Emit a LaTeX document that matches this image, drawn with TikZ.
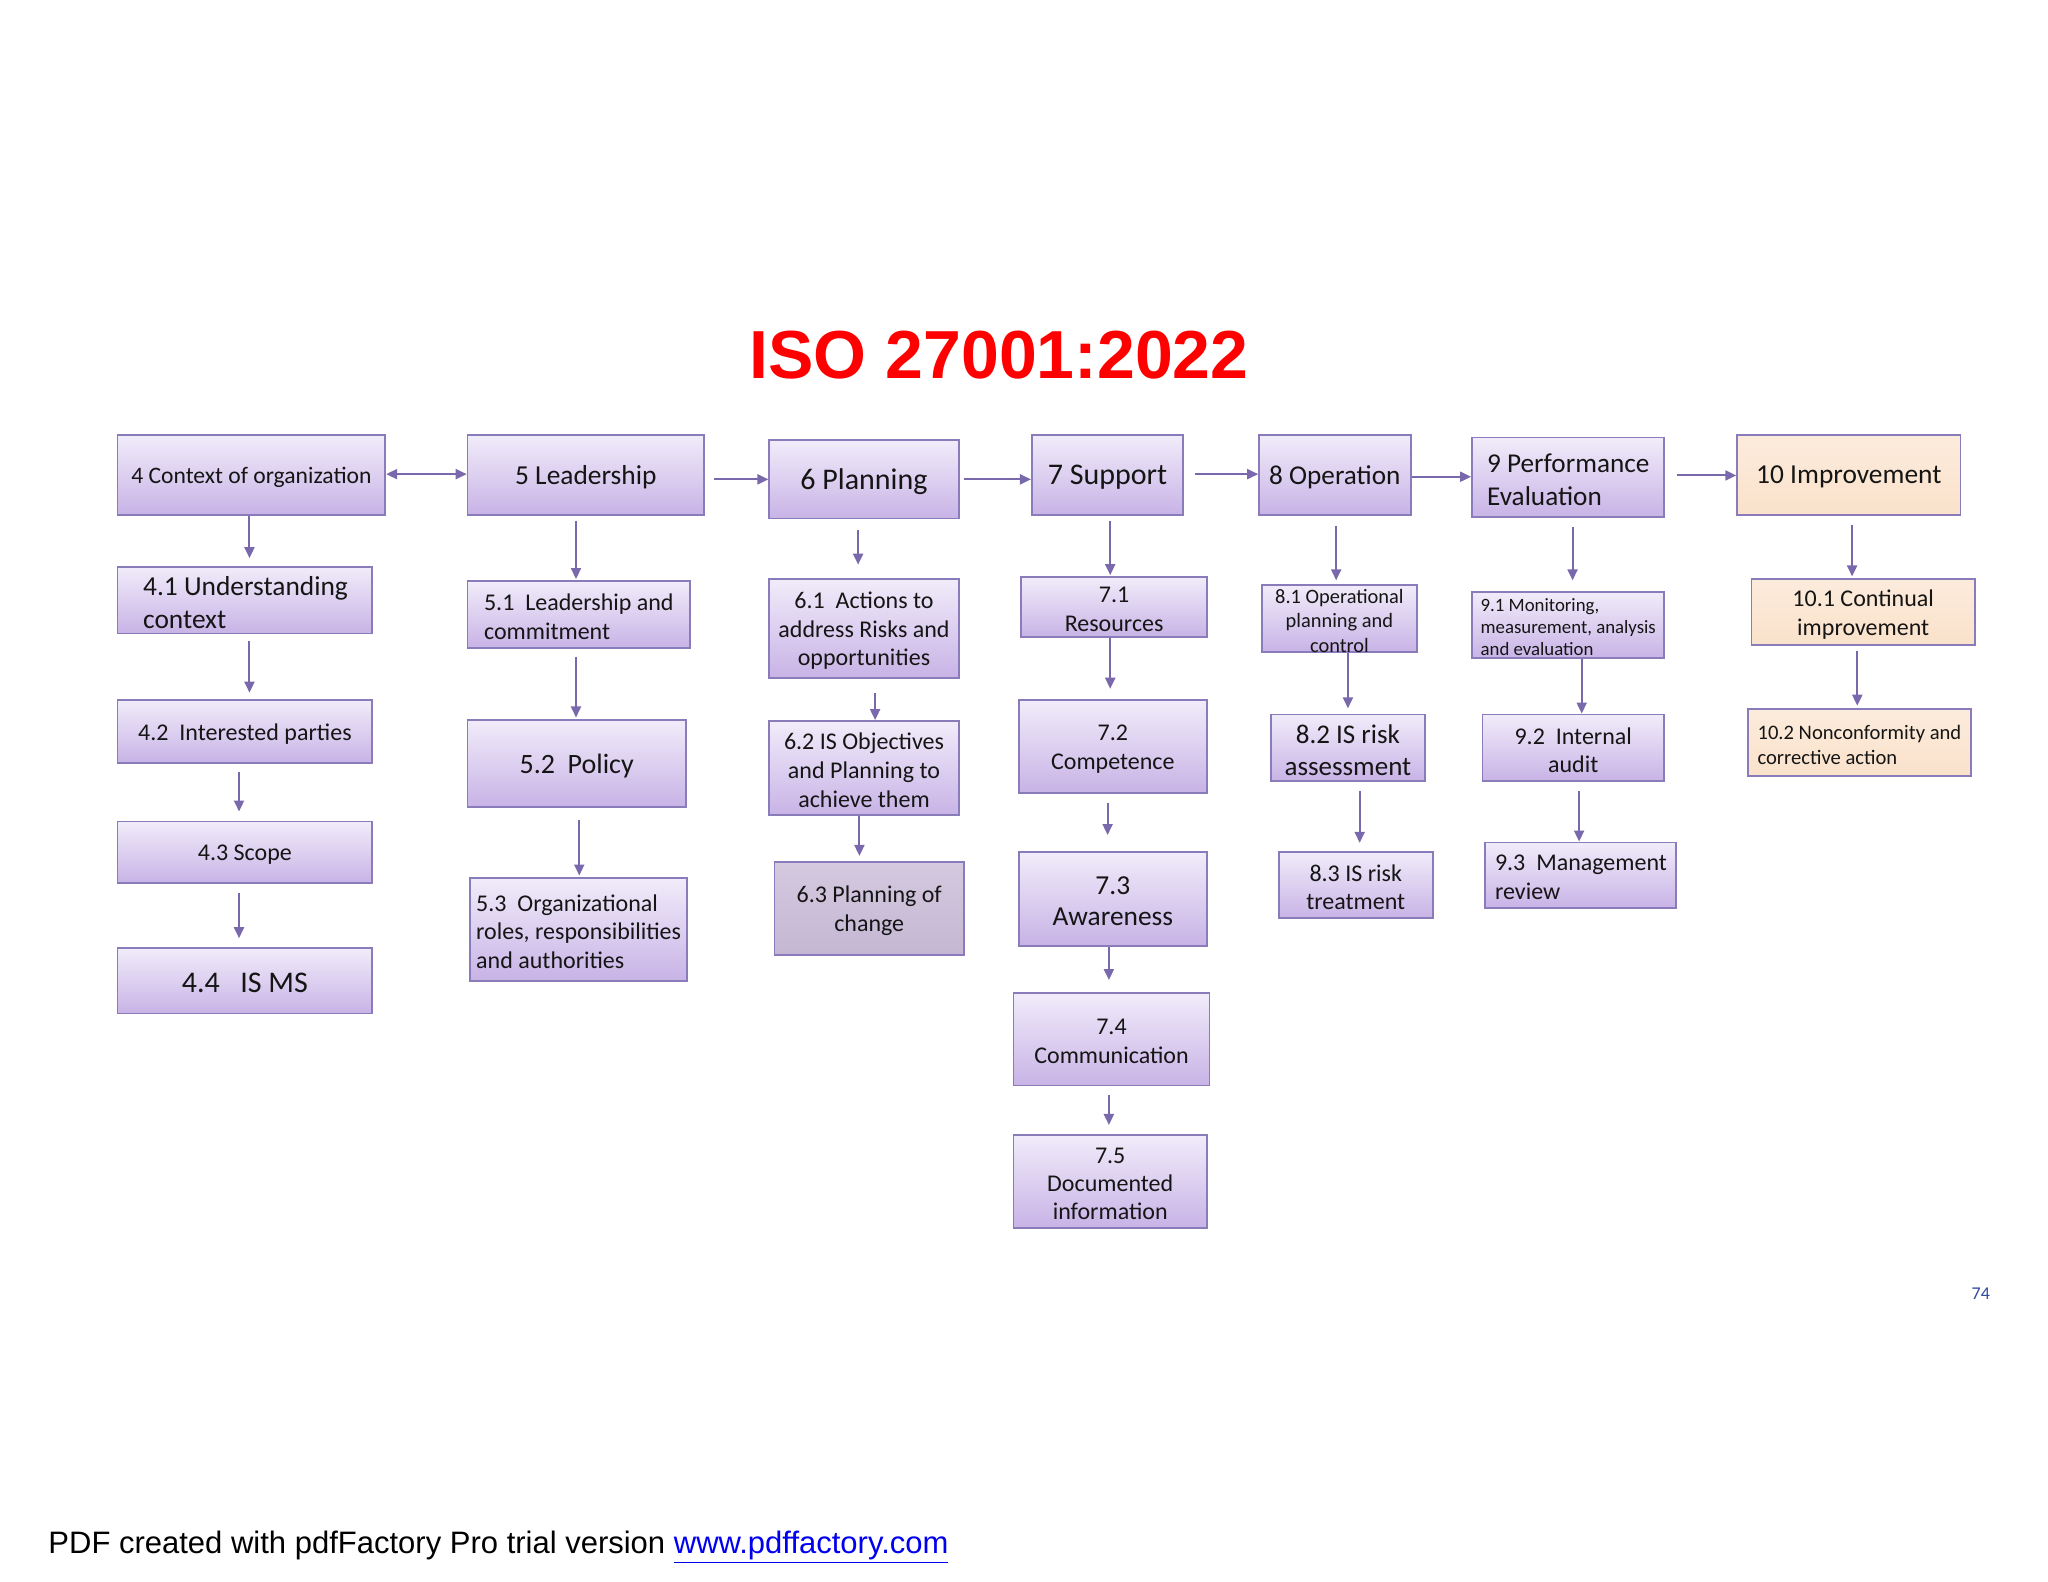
\documentclass[tikz,border=0pt]{standalone}
\usepackage{fontspec}
\setmainfont{Carlito}
\newfontfamily\arialf{Liberation Sans}
\usetikzlibrary{arrows.meta,calc}
\newcommand\uu{0.653pt}
\newcommand\fs[2]{\fontsize{#1}{#2}\selectfont}
\definecolor{boxtop}{HTML}{F1ECFA}
\definecolor{boxbot}{HTML}{C8B3E6}
\definecolor{boxedge}{HTML}{8A7CBA}
\definecolor{arrc}{HTML}{7A68AC}
\definecolor{peach}{HTML}{FCEBDC}
\definecolor{peachbot}{HTML}{FAE2CB}
\definecolor{greytop}{HTML}{D4C9DF}
\definecolor{greybot}{HTML}{C5B7D3}
\definecolor{txtc}{HTML}{151515}
\definecolor{pgnum}{HTML}{2E4A9E}
\definecolor{linkc}{HTML}{0000EE}
\tikzset{
  >={Triangle[length=5.5pt,width=5pt]},
  box/.style={rectangle, draw=boxedge, line width=0.9pt, top color=boxtop, bottom color=boxbot, inner sep=0pt},
  pbox/.style={box, top color=peach, bottom color=peachbot},
  gbox/.style={box, top color=greytop, bottom color=greybot},
  txt/.style={inner sep=0pt, align=center, text=txtc, yshift=-1.2pt},
  arr/.style={draw=arrc, line width=1pt, ->},
  dbl/.style={<->}
}
% centered box: name x1 y1 x2 y2 style font text
\newcommand\bxc[8]{%
  \node[#6, minimum width={(#4-#2)*\uu}, minimum height={(#5-#3)*\uu}] (#1) at ({(#2+#4)/2},{(#3+#5)/2}) {};
  \node[txt, font=#7] (#1t) at (#1.center) {#8};}
% left aligned box: name x1 y1 x2 y2 style pad font text
\newcommand\bxl[9]{%
  \node[#6, minimum width={(#4-#2)*\uu}, minimum height={(#5-#3)*\uu}] (#1) at ({(#2+#4)/2},{(#3+#5)/2}) {};
  \node[txt, align=left, anchor=west, font=#8] (#1t) at ([xshift={#7*\uu}]#1.west) {#9};}
% vertical arrow: [opts] from to dx gapstart gapend
\newcommand\varr[6][]{\draw[arr,#1,shorten <={#5*\uu},shorten >={#6*\uu}] ([xshift={#4*\uu}]#2.south) -- ([xshift={#4*\uu}]#2.south |- #3.north);}
% horizontal arrow: [opts] from to dy gapstart gapend
\newcommand\harr[6][]{\draw[arr,#1,shorten <={#5*\uu},shorten >={#6*\uu}] ([yshift={(0-(#4))*\uu}]#2.east) -- ([yshift={(0-(#4))*\uu}]#2.east -| #3.west);}
\begin{document}
\begin{tikzpicture}[x=0.653pt, y=-0.653pt]
\fill[white] (0,0) rectangle (1568,1211);
\useasboundingbox (0,0) rectangle (1568,1211);

\node[font=\arialf\bfseries\fs{34}{40}, text=red, anchor=base, inner sep=0pt] (title) at (765,290) {ISO 27001:2022};

% column 4
\bxc{c4}{90}{333}{295}{394}{box}{\fs{11.8}{14}}{4 Context of organization}
\bxl{c41}{90}{434}{285}{485}{box}{20}{\fs{13.7}{16.3}}{4.1 Understanding\\context}
\bxc{c42}{90}{536}{285}{584}{box}{\fs{12}{14.4}}{4.2~ Interested parties}
\bxc{c43}{90}{629}{285}{676}{box}{\fs{12}{14.4}}{4.3 Scope}
\bxc{c44}{90}{726}{285}{776}{box}{\fs{15}{18}}{4.4~~ IS MS}
% column 5
\bxc{l5}{358}{333}{539}{394}{box}{\fs{13.7}{16.4}}{5 Leadership}
\bxl{l51}{358}{445}{528}{496}{box}{13}{\fs{12}{14.4}}{5.1~ Leadership and\\commitment}
\bxc{l52}{358}{551}{525}{618}{box}{\fs{14}{16.8}}{5.2~ Policy}
\bxl{l53}{360}{672}{526}{751}{box}{5}{\fs{12}{14.4}}{5.3~ Organizational\\roles, responsibilities\\and authorities}
% column 6
\bxc{p6}{589}{337}{734}{397}{box}{\fs{15}{18}}{6 Planning}
\bxc{p61}{589}{443}{734}{519}{box}{\fs{12}{14.4}}{6.1~ Actions to\\address Risks and\\opportunities}
\bxc{p62}{589}{552}{734}{624}{box}{\fs{12}{14.4}}{6.2 IS Objectives\\and Planning to\\achieve them}
\bxc{p63}{593}{660}{738}{731}{gbox}{\fs{12}{14.4}}{6.3 Planning of\\change}
% column 7
\bxc{s7}{790}{333}{906}{394}{box}{\fs{15}{18}}{7 Support}
\bxc{s71}{782}{442}{924}{488}{box}{\fs{12}{14.4}}{7.1\\Resources}
\bxc{s72}{780}{536}{924}{607}{box}{\fs{12}{14.4}}{7.2\\Competence}
\bxc{s73}{780}{652}{924}{724}{box}{\fs{13.7}{15.7}}{7.3\\Awareness}
\bxc{s74}{776}{760}{926}{831}{box}{\fs{12}{14.4}}{7.4\\Communication}
\bxc{s75}{776}{869}{924}{940}{box}{\fs{12}{14}}{7.5\\Documented\\information}
% column 8
\bxc{o8}{964}{333}{1080}{394}{box}{\fs{13.6}{16.3}}{8 Operation}
\bxc{o81}{966}{448}{1085}{499}{box}{\fs{10.2}{12.4}}{8.1 Operational\\planning and\\control}
\bxc{o82}{973}{547}{1091}{598}{box}{\fs{13.5}{16.2}}{8.2 IS risk\\assessment}
\bxc{o83}{979}{652}{1097}{703}{box}{\fs{12}{14.4}}{8.3 IS risk\\treatment}
% column 9
\bxl{e9}{1127}{335}{1274}{396}{box}{12}{\fs{13.6}{16.3}}{9 Performance\\Evaluation}
\bxl{e91}{1127}{453}{1274}{504}{box}{7}{\fs{9.4}{11.1}}{9.1 Monitoring,\\measurement, analysis\\and evaluation}
\bxc{e92}{1135}{547}{1274}{598}{box}{\fs{12}{14.4}}{9.2~ Internal\\audit}
\bxl{e93}{1137}{645}{1283}{695}{box}{8}{\fs{12}{14.4}}{9.3~ Management\\review}
% column 10
\bxc{i10}{1330}{333}{1501}{394}{pbox}{\fs{13.7}{16.4}}{10 Improvement}
\bxc{i101}{1341}{443}{1512}{494}{pbox}{\fs{12}{14.4}}{10.1 Continual\\improvement}
\bxl{i102}{1338}{543}{1509}{594}{pbox}{8}{\fs{10.3}{12.4}}{10.2 Nonconformity and\\corrective action}

% horizontal connectors
\harr[dbl]{c4}{l5}{-0.5}{0}{0}
\harr{l5}{p6}{3.5}{7}{0}
\harr{p6}{s7}{0}{3}{0}
\harr{s7}{o8}{-0.5}{8}{0}
\harr{o8}{e9}{1.5}{0}{0}
\harr{e9}{i10}{-1.5}{9}{0}

% vertical connectors
\varr{c4}{c41}{-1.5}{0}{6}
\varr{c41}{c42}{3.5}{5}{5}
\varr{c42}{c43}{-4.5}{6}{7}
\varr{c43}{c44}{-4.5}{7}{7}
\varr{l5}{l51}{-7.5}{4}{1}
\varr{l51}{l52}{-2}{6}{1}
\varr{l52}{l53}{2}{9}{1}
\varr{p6}{p61}{-4.5}{8}{10}
\varr{p61}{p62}{8.5}{11}{0}
\varr{p62}{p63}{-3.5}{0}{4}
\varr{s7}{s71}{2}{4}{1}
\varr{s71}{s72}{-3}{0}{8}
\varr{s72}{s73}{-4}{7}{12}
\varr{s73}{s74}{-3}{0}{9}
\varr{s74}{s75}{-2}{7}{7}
\varr{o8}{o81}{1}{8}{3}
\varr{o81}{o82}{6.5}{0}{4}
\varr{o82}{o83}{9}{7}{6}
\varr{e9}{e91}{3.5}{7}{8}
\varr{e91}{e92}{10.5}{0}{0}
\varr{e92}{e93}{4.5}{7}{0}
\varr{i10}{i101}{2.5}{7}{1}
\varr{i101}{i102}{-4.5}{4}{2}

\node[font=\fs{9}{11}, text=pgnum, anchor=base, inner sep=0pt] (pg) at (1516.5,995) {74};
\node[font=\arialf\fs{15.5}{18}, anchor=base west, inner sep=0pt] (footer) at (36.8,1189) {PDF created with pdfFactory Pro trial version \textcolor{linkc}{\underline{www.pdffactory.com}}};
\end{tikzpicture}
\end{document}
